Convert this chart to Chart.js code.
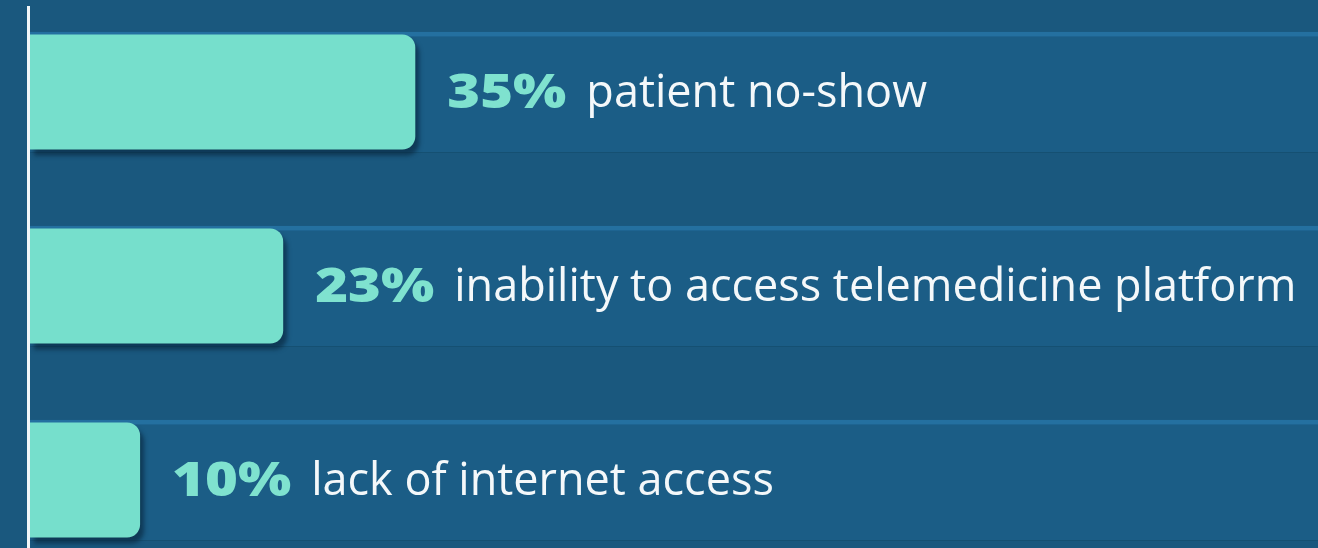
<!DOCTYPE html>
<html>
<head>
<meta charset="utf-8">
<script src="https://cdn.jsdelivr.net/npm/chart.js@4.4.1/dist/chart.umd.min.js"></script>
<style>
  html, body { margin: 0; padding: 0; width: 1318px; height: 548px; overflow: hidden; background: #1a587e; }
  #wrap { position: absolute; left: 0; top: -5px; width: 1318px; height: 582px; }
</style>
</head>
<body>
<div id="wrap"><canvas id="c"></canvas></div>
<script>
// ---- data ----
const categories = ["patient no-show", "inability to access telemedicine platform", "lack of internet access"];
const percentValues = [35, 23, 10];
const percentLabels = ["35%", "23%", "10%"];
const axisMax = 117;
const trackValues = [axisMax, axisMax, axisMax];

const BG = '#1a587e';
const TEAL = '#76dfcc';
const TRACK = '#1b5d86';
const TRACK_TOP = '#2470a0';

const bgPlugin = {
  id: 'bg',
  beforeDraw(chart) {
    const ctx = chart.ctx;
    ctx.save();
    ctx.fillStyle = BG;
    ctx.fillRect(0, 0, chart.width, chart.height);
    ctx.restore();
  }
};

const shadowPlugin = {
  id: 'shadow',
  beforeDatasetDraw(chart, args) {
    const ctx = chart.ctx;
    ctx.save();
    ctx.shadowColor = 'rgba(5,30,50,0.55)';
    ctx.shadowOffsetY = 6;
    ctx.shadowOffsetX = args.index === 0 ? 4 : 0;
    ctx.shadowBlur = 4;
  },
  afterDatasetDraw(chart) {
    chart.ctx.restore();
  }
};

const linePlugin = {
  id: 'vline',
  afterDatasetsDraw(chart) {
    const ctx = chart.ctx;
    const x = chart.chartArea.left - 1.5;
    ctx.save();
    ctx.strokeStyle = '#f2f6f8';
    ctx.lineWidth = 3;
    ctx.beginPath();
    ctx.moveTo(x, 11);
    ctx.lineTo(x, chart.height);
    ctx.stroke();
    ctx.restore();
  }
};

const labelPlugin = {
  id: 'labels',
  afterDatasetsDraw(chart) {
    const ctx = chart.ctx;
    const meta = chart.getDatasetMeta(0);
    meta.data.forEach((bar, i) => {
      let x = bar.x + 32;
      const y = bar.y + 2;
      const sx = 1.17;
      ctx.save();
      ctx.font = '800 48px "Open Sans", sans-serif';
      ctx.fillStyle = '#7fe2cf';
      ctx.textBaseline = 'middle';
      ctx.textAlign = 'left';
      ctx.translate(x, y);
      ctx.scale(sx, 1);
      ctx.fillText(percentLabels[i], 0, 0);
      const w = ctx.measureText(percentLabels[i]).width * sx;
      ctx.restore();
      x += w + 20;
      ctx.save();
      ctx.font = '45px "Open Sans", sans-serif';
      ctx.fillStyle = '#f4f8fa';
      ctx.textBaseline = 'middle';
      ctx.textAlign = 'left';
      ctx.fillText(categories[i], x, y);
      ctx.restore();
    });
  }
};

new Chart(document.getElementById('c'), {
  type: 'bar',
  data: {
    labels: categories,
    datasets: [
      {
        label: 'value',
        data: percentValues,
        backgroundColor: TEAL,
        borderRadius: { topLeft: 0, bottomLeft: 0, topRight: 13, bottomRight: 13 },
        borderSkipped: false,
        grouped: false,
        order: 0,
        barPercentage: 0.593,
        categoryPercentage: 1
      },
      {
        label: 'track',
        data: trackValues,
        backgroundColor: TRACK,
        borderColor: TRACK_TOP,
        borderWidth: { top: 5, right: 0, bottom: 0, left: 0 },
        borderSkipped: false,
        grouped: false,
        order: 1,
        barPercentage: 0.62,
        categoryPercentage: 1
      }
    ]
  },
  options: {
    indexAxis: 'y',
    responsive: true,
    maintainAspectRatio: false,
    animation: false,
    layout: { padding: { left: 30, right: 0, top: 0, bottom: 0 } },
    scales: {
      x: { display: false, min: 0, max: axisMax },
      y: { display: false }
    },
    plugins: {
      legend: { display: false },
      tooltip: { enabled: false }
    }
  },
  plugins: [bgPlugin, shadowPlugin, linePlugin, labelPlugin]
});
</script>
</body>
</html>
